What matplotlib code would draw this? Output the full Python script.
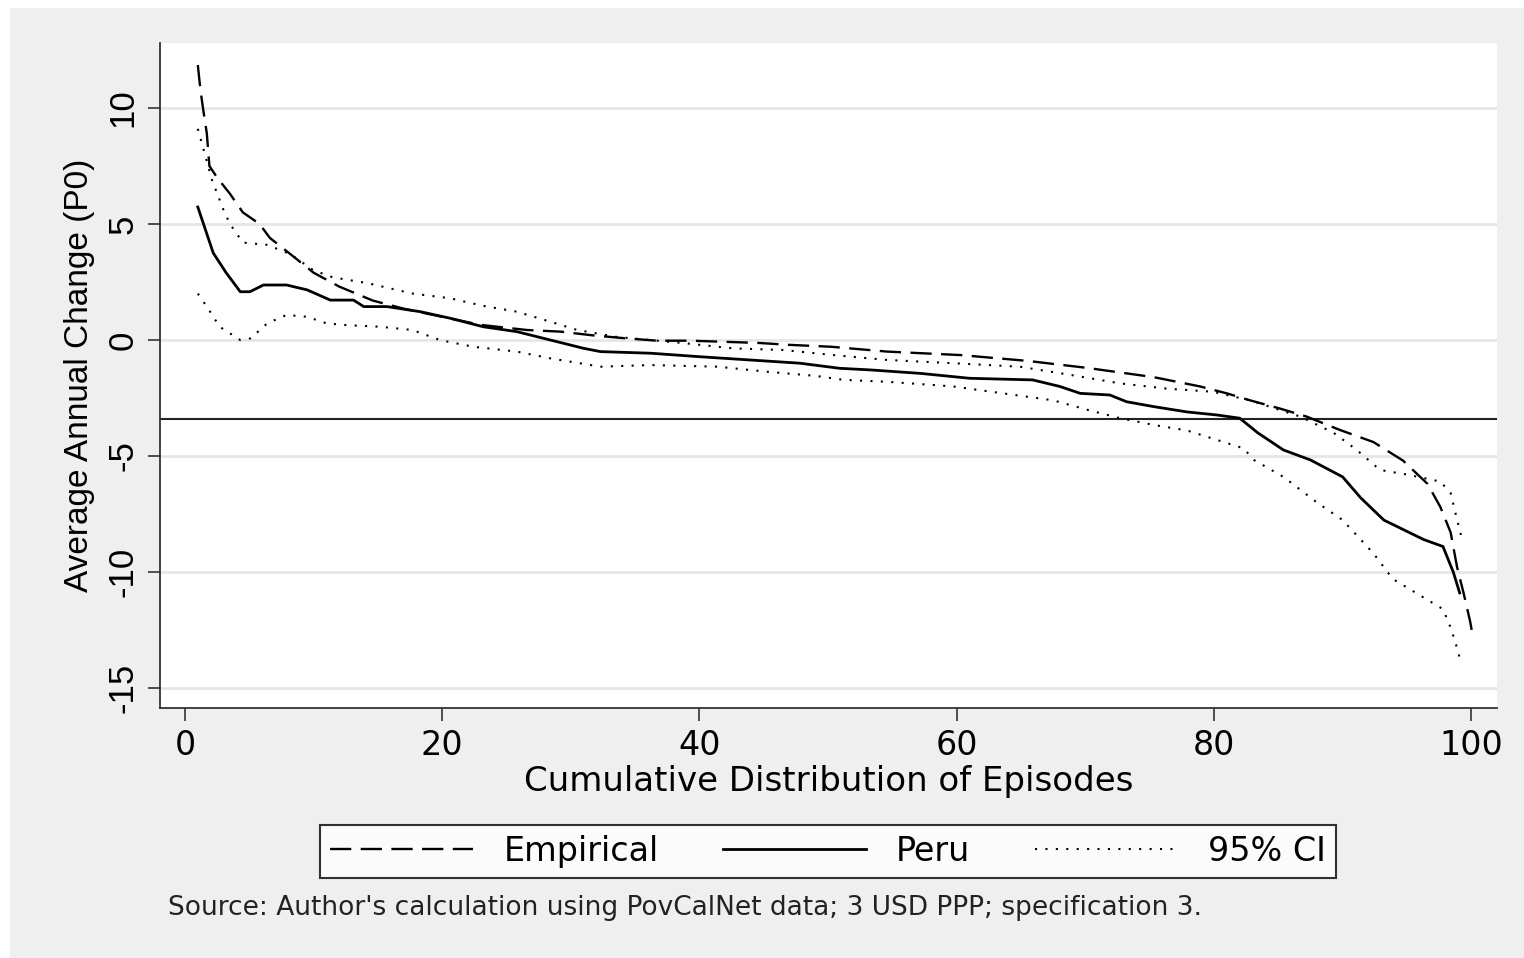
import matplotlib
matplotlib.use("Agg")
import matplotlib.pyplot as plt
from matplotlib.patches import Rectangle

plt.rcParams["font.family"] = ["Liberation Sans", "DejaVu Sans"]
plt.rcParams["axes.unicode_minus"] = False

# empirical distribution (dashed)
emp_x = [1.0, 1.2, 1.4, 1.7, 1.9, 2.5, 3.5, 4.5, 5.8, 6.6, 8.2, 10, 12, 14.6, 17, 20, 23,
         26.6, 29.2, 31.7, 34.1, 36.7, 39.3, 42.1, 44.7, 47, 50.2, 54.6, 60.3, 65.5, 70.1,
         75.3, 78.9, 81, 82.8, 85.1, 87.2, 89.8, 92.4, 94.7, 96.6, 97.6, 98.4, 98.9, 99.4,
         99.9, 100.1]
emp_y = [11.85, 10.8, 10.0, 8.9, 7.5, 7.0, 6.3, 5.5, 5.0, 4.4, 3.7, 2.9, 2.3, 1.7, 1.35, 1.0,
         0.65, 0.43, 0.36, 0.2, 0.08, -0.03, -0.03, -0.08, -0.13, -0.21, -0.29, -0.5, -0.65,
         -0.9, -1.2, -1.6, -2.0, -2.3, -2.6, -2.95, -3.3, -3.88, -4.4, -5.2, -6.2, -7.2, -8.3,
         -9.8, -10.9, -12.1, -12.7]

# Peru (solid)
peru_x = [1.0, 2.2, 3.2, 4.3, 5.05, 6.1, 7.9, 9.5, 11.3, 13.1, 13.9, 15.7, 18.3, 20.6, 23.2,
          25.8, 28.4, 31, 32.3, 36.2, 40, 43.9, 47.8, 50.9, 53.3, 57.2, 61, 65.9, 68, 69.6,
          71.9, 73.2, 75.3, 77.9, 80.2, 82, 83.4, 85.4, 87.5, 90, 91.4, 93.2, 96.3, 97.8,
          98.6, 99.1]
peru_y = [5.73, 3.75, 2.9, 2.08, 2.08, 2.37, 2.37, 2.16, 1.72, 1.72, 1.44, 1.44, 1.22, 0.94,
          0.57, 0.36, 0.0, -0.36, -0.5, -0.57, -0.72, -0.86, -1.0, -1.22, -1.29, -1.44, -1.65,
          -1.72, -2.0, -2.3, -2.37, -2.66, -2.87, -3.1, -3.23, -3.37, -4.0, -4.74, -5.17,
          -5.9, -6.8, -7.76, -8.6, -8.9, -10.0, -10.9]

# 95% CI upper / lower (dotted)
ciu_x = [1.0, 1.4, 2.1, 3.0, 3.5, 4.5, 6.4, 8.2, 10, 11.5, 14.2, 17.7, 20.6, 23.2, 25.8, 28.4,
         30.5, 33.6, 38.7, 42.6, 46.5, 50.4, 54.6, 59.7, 64.9, 68.8, 72.7, 76.4, 79.9, 82.8,
         86.7, 89.3, 91.1, 92.9, 95, 97.6, 98.4, 98.9, 99.2]
ciu_y = [9.1, 8.3, 6.9, 5.6, 5.0, 4.2, 4.1, 3.7, 3.0, 2.7, 2.45, 2.0, 1.8, 1.47, 1.22, 0.79,
         0.43, 0.13, -0.13, -0.36, -0.43, -0.65, -0.86, -1.0, -1.15, -1.5, -1.87, -2.1,
         -2.23, -2.6, -3.3, -4.0, -4.74, -5.6, -5.8, -6.1, -6.6, -7.76, -8.4]
cil_x = [1.0, 1.7, 2.7, 4.3, 5.1, 6.4, 7.9, 9.5, 11, 12.3, 15.2, 17.7, 19.8, 22.4, 25.8, 28.4,
         32.3, 36.2, 41.4, 45.3, 49.1, 51.2, 54.6, 59.7, 63.6, 67.5, 70.1, 72.7, 75.3, 77.9,
         80.2, 82.3, 83.1, 85.4, 88, 90, 92.4, 93.9, 96.6, 97.8, 98.4, 98.8, 99.1]
cil_y = [2.0, 1.44, 0.57, 0.0, 0.07, 0.72, 1.08, 1.0, 0.72, 0.65, 0.57, 0.43, 0.0, -0.29, -0.5,
         -0.79, -1.15, -1.08, -1.15, -1.37, -1.55, -1.72, -1.8, -2.0, -2.3, -2.6, -3.0, -3.37,
         -3.66, -3.9, -4.3, -4.67, -5.17, -5.9, -7.0, -7.76, -9.2, -10.3, -11.2, -11.6, -12.4,
         -13.1, -13.7]

ref_line = -3.4
xticks = [0, 20, 40, 60, 80, 100]
yticks = [-15, -10, -5, 0, 5, 10]

# horizontal text looks a bit stretched in the original -> wider face
wide = ["DejaVu Sans"]

fig = plt.figure(figsize=(15.24, 9.58), dpi=100, facecolor="white")
fig.patches.append(Rectangle((10 / 1524, 0), 1, 950 / 958, transform=fig.transFigure,
                             facecolor="#efefef", edgecolor="none", zorder=-10))

ax = fig.add_axes([160 / 1524, 250 / 958, 1337 / 1524, 665 / 958])
ax.set_facecolor("white")
ax.set_xlim(-1.94, 102.0)
ax.set_ylim(-15.86, 12.8)

ax.set_yticks(yticks)
ax.set_xticks(xticks)
ax.grid(axis="y", color="#e6e6e6", lw=2)
ax.set_axisbelow(True)
for s in ["top", "right"]:
    ax.spines[s].set_visible(False)
for s in ["left", "bottom"]:
    ax.spines[s].set_color("#333333")
    ax.spines[s].set_linewidth(1.3)
ax.tick_params(axis="both", length=9, width=1.2, color="#333333", labelsize=25, pad=6)
for lab in ax.get_yticklabels():
    lab.set_rotation(90)
    lab.set_va("center")
for lab in ax.get_xticklabels():
    lab.set_family(wide)
    lab.set_fontsize(24)

ax.axhline(ref_line, color="#222222", lw=1.5)

ax.plot(emp_x, emp_y, color="black", lw=1.7, ls=(0, (9, 4)), label="Empirical")
ax.plot(peru_x, peru_y, color="black", lw=2.0, ls="-", label="Peru")
ax.plot(ciu_x, ciu_y, color="black", lw=1.5, ls=(0, (1, 4)), label="95% CI")
ax.plot(cil_x, cil_y, color="black", lw=1.5, ls=(0, (1, 4)))

ax.set_xlabel("Cumulative Distribution of Episodes", fontsize=24.5, labelpad=2, family=wide)
ax.set_ylabel("Average Annual Change (P0)", fontsize=24, labelpad=8)

leg = fig.legend(loc="lower left", bbox_to_anchor=(320 / 1524, 80 / 958, 1016 / 1524, 61 / 958),
                 ncol=3, mode="expand", prop={"family": wide, "size": 24}, handlelength=4.3,
                 frameon=True, fancybox=False, edgecolor="black", borderaxespad=0,
                 borderpad=0.3, handletextpad=0.9)
leg.get_frame().set_linewidth(1.5)

fig.text(168 / 1524, 50 / 958,
         "Source: Author's calculation using PovCalNet data; 3 USD PPP; specification 3.",
         fontsize=19, color="#222222", va="center", ha="left", family=wide)

fig.savefig("out.png", dpi=100, facecolor=fig.get_facecolor())
